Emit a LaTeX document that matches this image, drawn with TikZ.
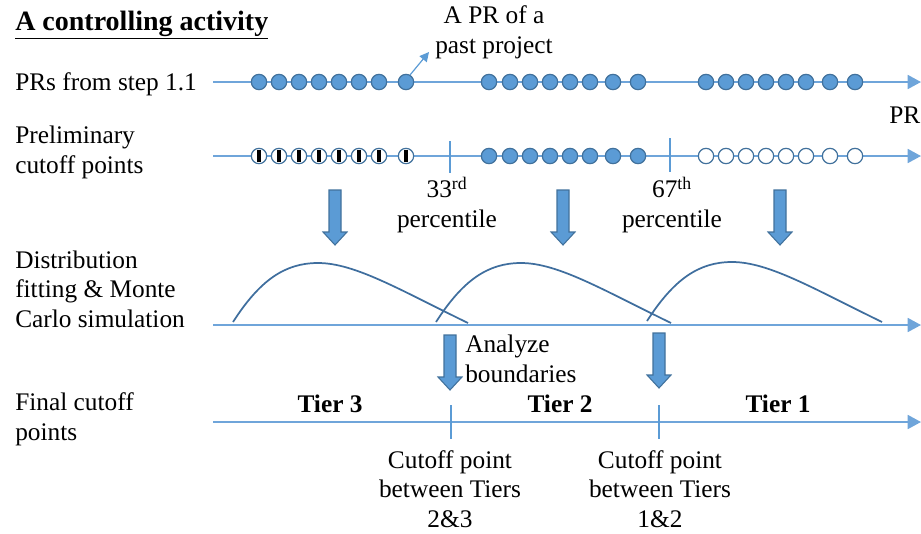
\documentclass[tikz,border=0pt]{standalone}
\usepackage{fontspec}
\setmainfont{Liberation Serif}
\usetikzlibrary{arrows.meta}
\definecolor{axisblue}{HTML}{6FA5DA}
\definecolor{dotfill}{HTML}{5B9BD5}
\definecolor{dotedge}{HTML}{41719C}
\definecolor{curveblue}{HTML}{3F6E9E}
\begin{document}
\begin{tikzpicture}[x=0.75pt,y=-0.75pt,
  axis/.style={draw=axisblue, line width=1.3pt, -{Triangle[length=10pt,width=10.5pt]}},
  dot/.style={circle, draw=dotedge, fill=dotfill, line width=0.9pt, minimum size=11.5pt, inner sep=0pt},
  hollow/.style={circle, draw=dotedge, fill=white, line width=0.9pt, minimum size=11.5pt, inner sep=0pt},
  barred/.style={hollow, path picture={\fill[black]
      ([xshift=-1.4pt,yshift=-4.3pt]path picture bounding box.center) rectangle
      ([xshift=1.4pt,yshift=4.3pt]path picture bounding box.center);}},
  tickmark/.style={draw=dotfill, line width=2.2pt},
  curve/.style={draw=curveblue, line width=1.3pt},
  pointer/.style={draw=dotfill, line width=0.9pt, -{Triangle[length=7pt,width=7pt]}},
  lbl/.style={font=\fontsize{19}{22}\selectfont, align=left, anchor=base west, inner sep=0pt},
  txt/.style={font=\fontsize{19}{22}\selectfont, align=center, anchor=base, inner sep=0pt},
  tier/.style={font=\fontsize{19}{22}\selectfont\bfseries, anchor=base, inner sep=0pt},
  pics/downarrow/.style={code={
      \draw[draw=dotedge, fill=dotfill, line width=0.8pt]
        (-6,0) -- (6,0) -- (6,42) -- (12,42) -- (0,55) -- (-12,42) -- (-6,42) -- cycle;}},
  pics/bump/.style={code={
      \draw[curve] (0,0) .. controls (27,-42) and (52,-59) .. (85,-59)
                         .. controls (122,-59) and (167,-32) .. (235,1);}},
]
\useasboundingbox (0,0) rectangle (921,533);

% title
\node[font=\fontsize{21}{25}\selectfont\bfseries, anchor=base west, inner sep=0pt]
  (title) at (15,30) {\underline{A controlling activity}};

% row labels (multi-line nodes are placed by their last baseline)
\node[lbl] (l1) at (15,90) {PRs from step 1.1};
\node[lbl] (l2) at (15,173) {Preliminary\\cutoff points};
\node[lbl] (l3) at (15,327) {Distribution\\fitting \& Monte\\Carlo simulation};
\node[lbl] (l4) at (15,440) {Final cutoff\\points};

% axes
\foreach \r/\y in {1/82,2/156,3/325,4/422}{
  \coordinate (s\r) at (213,\y);
  \coordinate (e\r) at (921,\y);
  \draw[axis] (s\r) -- (e\r);
}
\node[font=\fontsize{19}{22}\selectfont, anchor=base west, inner sep=0pt] (prlab) at (889,123) {PR};

% row 1: all PRs
\foreach \x [count=\i] in {259,279,299,319,339,359,379,406}
  \node[dot] (a\i) at (\x,82) {};
\foreach \x [count=\i] in {489,510,530,550,570,590,613,638}
  \node[dot] (m\i) at (\x,82) {};
\foreach \x [count=\i] in {706,726,746,766,786,806,830,855}
  \node[dot] (h\i) at (\x,82) {};

\node[txt] (prnote) at (494,53) {A PR of a\\past project};
\coordinate (prtip) at (429,52);
\draw[pointer] (a8.60) -- (prtip);

% row 2: preliminary cutoffs
\foreach \x [count=\i] in {259,279,299,319,339,359,379,406}
  \node[barred] (b\i) at (\x,156) {};
\foreach \x [count=\i] in {489,510,530,550,570,590,613,638}
  \node[dot] (c\i) at (\x,156) {};
\foreach \x [count=\i] in {706,726,746,766,786,806,830,855}
  \node[hollow] (d\i) at (\x,156) {};
\draw[tickmark] (450,141) -- (450,173);
\draw[tickmark] (670,138) -- (670,172);
\node[txt] (p33) at (447,227) {33\textsuperscript{rd}\\percentile};
\node[txt] (p67) at (672,227) {67\textsuperscript{th}\\percentile};

% block arrows into the fitting row
\pic at (335,190) {downarrow};
\pic at (563,190) {downarrow};
\pic at (780,190) {downarrow};

% fitted distributions
\pic at (233,322) {bump};
\pic at (436,322) {bump};
\pic at (647,321) {bump};

% block arrows into the final row
\pic at (450,335) {downarrow};
\pic at (659,333) {downarrow};
\node[lbl] (analyze) at (465,382) {Analyze\\boundaries};

% row 4: final tiers
\draw[tickmark] (451,405) -- (451,439);
\draw[tickmark] (659,405) -- (659,439);
\node[tier] (t3) at (330,412) {Tier 3};
\node[tier] (t2) at (560,412) {Tier 2};
\node[tier] (t1) at (778,412) {Tier 1};
\node[txt] (c23) at (450,527) {Cutoff point\\between Tiers\\2\&3};
\node[txt] (c12) at (660,527) {Cutoff point\\between Tiers\\1\&2};
\end{tikzpicture}
\end{document}
